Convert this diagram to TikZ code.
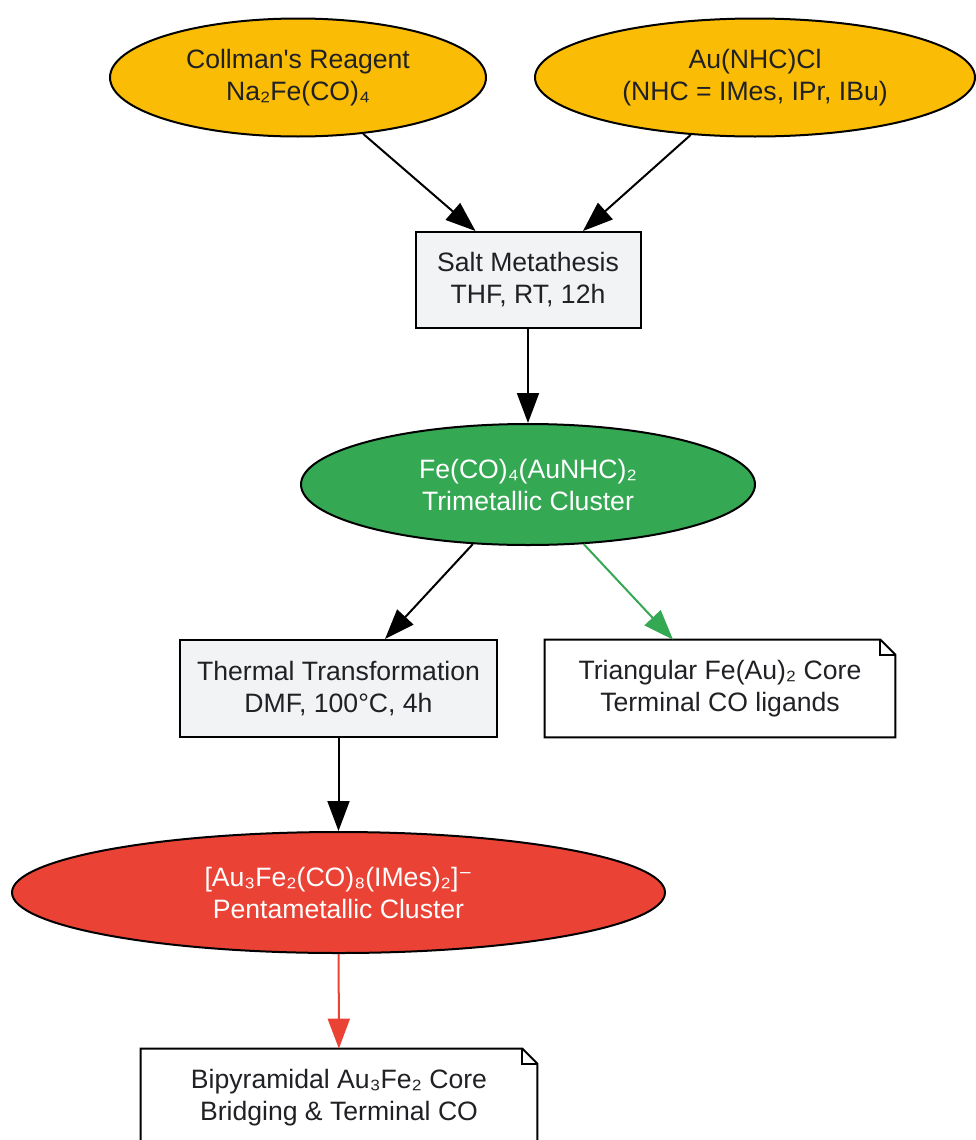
\documentclass[tikz,border=0pt]{standalone}
\usepackage{fontspec}
\setmainfont{Liberation Sans}
\newfontfamily\symfont{DejaVu Sans}
\usetikzlibrary{shapes.geometric,arrows.meta}

\definecolor{ink}{HTML}{202124}
\definecolor{reagentyellow}{HTML}{FBBC05}
\definecolor{clustergreen}{HTML}{34A853}
\definecolor{clusterred}{HTML}{EA4335}
\definecolor{stepgray}{HTML}{F1F3F4}

\tikzset{
  every node/.style={font=\fontsize{13.3pt}{16pt}\selectfont, text=ink, align=center, inner sep=0pt},
  reagent/.style={ellipse, draw=black, line width=1pt, fill=reagentyellow},
  cluster/.style={ellipse, draw=black, line width=1pt, text=white},
  stepbox/.style={rectangle, draw=black, line width=1pt, fill=stepgray},
  notebox/.style={rectangle, fill=white, minimum height=48.5pt},
  arr/.style={line width=1pt, -{Triangle[length=15pt,width=11pt]}}
}

\newcommand{\notefold}[1]{%
  \draw[line width=1pt] (#1.south west) -- (#1.north west) -- ([xshift=-7.5pt]#1.north east)
    -- ([yshift=-7.5pt]#1.north east) -- (#1.south east) -- cycle;
  \draw[line width=1pt] ([xshift=-7.5pt]#1.north east) |- ([yshift=-7.5pt]#1.north east);}

\begin{document}
\begin{tikzpicture}[x=0.5pt, y=-0.5pt]
\useasboundingbox (0,0) rectangle (975,1140);

\node[reagent, minimum width=188pt, minimum height=59pt] (collman) at (298,77.5) {Collman\textquotesingle s Reagent\\Na₂Fe(CO)₄};
\node[reagent, minimum width=220pt, minimum height=59pt] (aunhc) at (755,77.5) {Au(NHC)Cl\\(NHC = IMes, IPr, IBu)};
\node[stepbox, minimum width=112.5pt, minimum height=48pt] (salt) at (528,280) {Salt Metathesis\\THF, RT, 12h};
\node[cluster, fill=clustergreen, minimum width=227pt, minimum height=60.5pt] (trimetal) at (528,484.5) {Fe(CO)₄(AuNHC)₂\\Trimetallic Cluster};
\node[stepbox, minimum width=158.5pt, minimum height=48.5pt] (thermal) at (338.5,688.5) {Thermal Transformation\\DMF, 100°C, 4h};
\node[notebox, minimum width=175pt] (tricore) at (720,688.5) {Triangular Fe(Au)₂ Core\\Terminal CO ligands};
\node[cluster, fill=clusterred, minimum width=326.5pt, minimum height=60.5pt] (pentametal) at (338.5,892.5) {[Au₃Fe₂(CO)₈(IMes)₂]{\symfont ⁻}\\Pentametallic Cluster};
\node[notebox, minimum width=198pt] (bipcore) at (339,1097.5) {Bipyramidal Au₃Fe₂ Core\\Bridging \& Terminal CO};
\notefold{tricore}
\notefold{bipcore}

\draw[arr] (collman) -- ([xshift=-26.25pt]salt.north);
\draw[arr] (aunhc) -- ([xshift=27.5pt]salt.north);
\draw[arr] (salt) -- (trimetal);
\draw[arr] (trimetal) -- ([xshift=23.25pt]thermal.north);
\draw[arr, draw=clustergreen, fill=clustergreen] (trimetal) -- ([xshift=-23.5pt]tricore.north);
\draw[arr] (thermal) -- (pentametal);
\draw[arr, draw=clusterred, fill=clusterred] (pentametal) -- (bipcore);
\end{tikzpicture}
\end{document}
